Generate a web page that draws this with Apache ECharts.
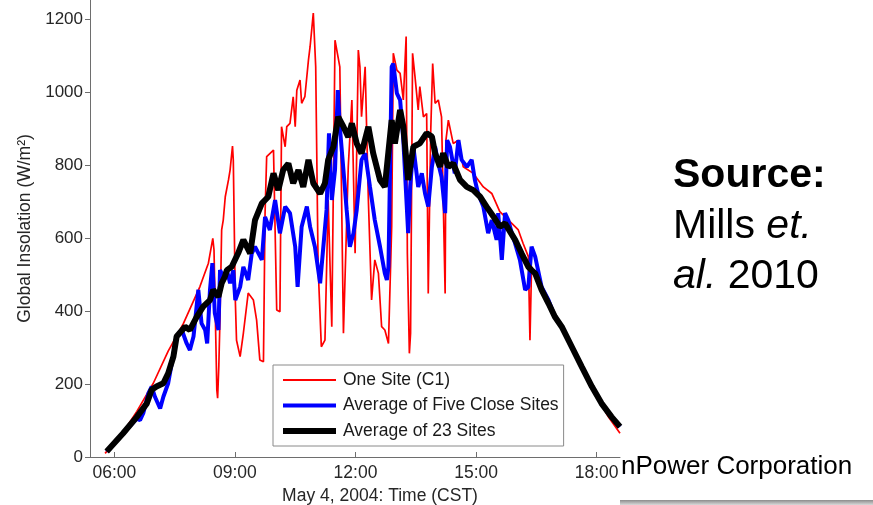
<!DOCTYPE html>
<html>
<head>
<meta charset="utf-8">
<script src="https://cdn.jsdelivr.net/npm/echarts@6.0.0/dist/echarts.min.js"></script>
<style>
  html, body { margin: 0; padding: 0; background: #fff; }
  #chart { width: 873px; height: 505px; }
</style>
</head>
<body>
<div id="chart"></div>
<script>
// time of day in hours (CST), insolation in W/m2
const oneSiteTime = [5.77, 6.22, 6.56, 6.97, 7.34, 7.72, 8.13, 8.34, 8.45, 8.48, 8.55, 8.57, 8.60, 8.63, 8.67, 8.71, 8.76, 8.84, 8.88, 8.94,
  8.96, 9.01, 9.04, 9.13, 9.21, 9.33, 9.46, 9.54, 9.62, 9.71, 9.75, 9.79, 9.96, 10.04, 10.08, 10.12, 10.16, 10.25, 10.29, 10.37,
  10.45, 10.50, 10.54, 10.62, 10.66, 10.74, 10.83, 10.87, 10.95, 11.01, 11.07, 11.15, 11.24, 11.32, 11.41, 11.49, 11.61, 11.70, 11.82, 11.91, 11.99,
  12.07, 12.11, 12.15, 12.24, 12.32, 12.40, 12.48, 12.57, 12.65, 12.73, 12.82, 12.90, 12.94, 13.03, 13.11, 13.19, 13.26, 13.29, 13.34, 13.37,
  13.42, 13.48, 13.56, 13.60, 13.69, 13.77, 13.81, 13.87, 13.92, 13.98, 14.06, 14.14, 14.23, 14.25, 14.31, 14.43, 14.56, 14.68, 14.93, 15.18,
  15.39, 15.59, 15.97, 16.05, 16.17, 16.30, 16.34, 16.38, 16.71, 17.13, 17.54, 17.96, 18.29, 18.58];
const oneSiteValue = [10, 68, 125, 202, 290, 366, 467, 531, 599, 567, 184, 161, 250, 384, 622, 649, 713, 759, 786, 852,
  813, 430, 320, 275, 339, 449, 430, 375, 266, 261, 668, 823, 841, 403, 398, 398, 905, 850, 905, 914,
  987, 905, 1005, 1033, 969, 987, 1088, 1124, 1216, 1069, 521, 302, 320, 704, 357, 1142, 1069, 339, 795, 978, 558,
  1115, 1069, 932, 1069, 704, 430, 540, 503, 357, 348, 311, 631, 1106, 1060, 1051, 978, 1152, 558, 284, 339,
  1106, 1042, 951, 1015, 932, 941, 448, 887, 1078, 969, 978, 932, 448, 868, 923, 859, 868, 795, 777, 740,
  722, 672, 631, 622, 585, 549, 320, 521, 448, 357, 257, 174, 110, 65];

const fiveSitesTime = [5.81, 6.22, 6.56, 6.64, 6.72, 6.85, 6.93, 7.01, 7.14, 7.22, 7.34, 7.43, 7.55, 7.68, 7.80, 7.88, 7.97, 8.09, 8.17, 8.26,
  8.31, 8.38, 8.44, 8.50, 8.59, 8.63, 8.71, 8.80, 8.88, 8.96, 9.01, 9.13, 9.21, 9.33, 9.42, 9.50, 9.67, 9.75, 9.87, 10.00,
  10.12, 10.25, 10.37, 10.50, 10.56, 10.66, 10.79, 10.87, 10.99, 11.12, 11.20, 11.28, 11.34, 11.41, 11.49, 11.56, 11.61, 11.70, 11.78, 11.86,
  11.95, 12.03, 12.15, 12.24, 12.36, 12.48, 12.61, 12.73, 12.78, 12.82, 12.90, 12.94, 13.03, 13.11, 13.19,
  13.31, 13.36, 13.44, 13.56, 13.65, 13.73, 13.81, 13.90, 13.98, 14.06, 14.14, 14.23, 14.28, 14.35, 14.47, 14.56, 14.64, 14.77, 14.89, 14.97,
  15.05, 15.18, 15.30, 15.39, 15.51, 15.55, 15.64, 15.72, 15.80, 15.89, 15.97, 16.09, 16.22, 16.30, 16.38, 16.47, 16.63, 16.80, 16.96, 17.13,
  17.38, 17.63, 17.88, 18.12, 18.37, 18.58];
const fiveSitesValue = [15, 65, 105, 101, 120, 175, 193, 165, 133, 165, 202, 257, 330, 348, 311, 293, 330, 458, 366, 348,
  311, 458, 531, 394, 348, 512, 494, 512, 476, 512, 430, 466, 521, 485, 558, 576, 540, 658, 622, 704,
  613, 686, 668, 576, 466, 631, 686, 631, 576, 476, 576, 677, 887, 704, 786, 1005, 905, 786, 677, 576,
  613, 677, 814, 832, 740, 649, 576, 503, 485, 521, 1069, 1078, 996, 978, 868,
  613, 740, 850, 740, 777, 722, 686, 795, 850, 804, 768, 668, 868, 850, 777, 868, 814, 795, 814, 759,
  722, 686, 613, 649, 595, 668, 540, 668, 649, 613, 585, 540, 458, 466, 576, 549, 466, 430, 384, 357,
  302, 247, 193, 147, 110, 83];

const allSitesTime = [5.81, 6.22, 6.56, 6.81, 6.93, 7.05, 7.22, 7.34, 7.47, 7.55, 7.76, 7.88, 8.05, 8.21, 8.38, 8.46, 8.59, 8.67, 8.75, 8.80,
  8.92, 9.08, 9.21, 9.38, 9.50, 9.67, 9.83, 9.96, 10.08, 10.20, 10.33, 10.45, 10.58, 10.70, 10.83, 10.95, 11.12, 11.24, 11.32, 11.45,
  11.57, 11.70, 11.82, 11.91, 12.03, 12.15, 12.32, 12.44, 12.61, 12.73, 12.90, 12.98, 13.11, 13.19, 13.31, 13.44, 13.60,
  13.77, 13.90, 13.98, 14.10, 14.18, 14.31, 14.43, 14.60, 14.77, 14.93, 15.10, 15.26, 15.43, 15.59, 15.72, 15.97, 16.13, 16.30, 16.38, 16.47,
  16.63, 16.80, 16.96, 17.13, 17.38, 17.63, 17.88, 18.12, 18.37, 18.58];
const allSitesValue = [15, 65, 110, 147, 184, 193, 202, 229, 275, 330, 357, 348, 384, 412, 430, 458, 439, 476, 494, 512,
  521, 558, 595, 558, 649, 695, 713, 777, 731, 786, 804, 750, 786, 740, 814, 750, 722, 750, 814, 850,
  932, 905, 877, 914, 859, 832, 905, 832, 759, 740, 923, 859, 951, 905, 759, 850, 859,
  887, 878, 832, 795, 832, 795, 804, 759, 740, 731, 713, 686, 659, 631, 640, 595, 558, 521, 512, 503,
  458, 421, 384, 357, 302, 247, 193, 147, 110, 83];

const xTicks = [6, 9, 12, 15, 18];
const yTicks = [0, 200, 400, 600, 800, 1000, 1200];

const FONT = '"Liberation Sans", Arial, sans-serif';

function pairs(t, v) {
  return t.map((h, i) => [h, v[i]]);
}

const chart = echarts.init(document.getElementById('chart'), null, { renderer: 'canvas' });

const option = {
  animation: false,
  backgroundColor: '#fff',
  textStyle: { fontFamily: FONT },
  grid: { left: 90, right: 253, top: 0, bottom: 48, outerBoundsMode: 'none', containLabel: false },
  xAxis: {
    type: 'value',
    min: 5.395,
    max: 18.58,
    name: 'May 4, 2004: Time (CST)',
    nameLocation: 'middle',
    nameGap: 28,
    nameTextStyle: { fontSize: 17.5, color: '#262626', fontFamily: FONT, padding: [0, 0, 0, 50] },
    axisLine: { show: true, lineStyle: { color: '#6e6e6e', width: 1 } },
    axisTick: { show: true, inside: true, length: 5, customValues: xTicks, lineStyle: { color: '#6e6e6e' } },
    axisLabel: {
      customValues: xTicks,
      margin: 7,
      fontSize: 17.5,
      color: '#262626',
      fontFamily: FONT,
      formatter: (v) => (v < 10 ? '0' : '') + v + ':00'
    },
    splitLine: { show: false }
  },
  yAxis: {
    type: 'value',
    min: 0,
    max: 1252,
    name: 'Global Insolation (W/m²)',
    nameLocation: 'middle',
    nameGap: 47,
    nameTextStyle: { fontSize: 17.5, color: '#262626', fontFamily: FONT },
    axisLine: { show: true, lineStyle: { color: '#6e6e6e', width: 1 } },
    axisTick: { show: true, inside: false, length: 5, customValues: yTicks, lineStyle: { color: '#6e6e6e' } },
    axisLabel: {
      customValues: yTicks,
      margin: 7,
      fontSize: 17,
      color: '#262626',
      fontFamily: FONT,
      formatter: (v) => String(v)
    },
    splitLine: { show: false }
  },
  legend: {
    orient: 'vertical',
    left: 273,
    top: 365,
    padding: [5, 5, 5, 10],
    itemGap: 5.5,
    itemWidth: 53,
    itemHeight: 12,
    backgroundColor: '#fff',
    borderColor: '#8a8a8a',
    borderWidth: 1,
    borderRadius: 0,
    selectedMode: false,
    itemStyle: { borderWidth: 0 },
    textStyle: { fontSize: 17.5, color: '#1a1a1a', fontFamily: FONT, lineHeight: 20, padding: [0, 0, 0, 2] },
    data: [
      { name: 'One Site (C1)', icon: 'path://M0,0M0,12M0,5.1H53V6.9H0Z' },
      { name: 'Average of Five Close Sites', icon: 'path://M0,0M0,12M0,4H53V8H0Z' },
      { name: 'Average of 23 Sites', icon: 'path://M0,0M0,12M0,3H53V9H0Z' }
    ]
  },
  series: [
    {
      name: 'One Site (C1)',
      type: 'line',
      data: pairs(oneSiteTime, oneSiteValue),
      symbol: 'none',
      color: '#ff0000',
      lineStyle: { color: '#ff0000', width: 1.7 }
    },
    {
      name: 'Average of Five Close Sites',
      type: 'line',
      data: pairs(fiveSitesTime, fiveSitesValue),
      symbol: 'none',
      color: '#0000ff',
      lineStyle: { color: '#0000ff', width: 4 }
    },
    {
      name: 'Average of 23 Sites',
      type: 'line',
      data: pairs(allSitesTime, allSitesValue),
      symbol: 'none',
      color: '#000000',
      lineStyle: { color: '#000000', width: 6 }
    }
  ],
  graphic: [
    {
      type: 'text', x: 673, y: 176,
      style: { text: 'Source:', font: 'bold 41px ' + FONT, fill: '#000', verticalAlign: 'middle' }
    },
    {
      type: 'text', x: 673, y: 227,
      style: {
        text: '{r|Mills }{i|et.}', verticalAlign: 'middle',
        rich: {
          r: { font: '41px ' + FONT, fill: '#000' },
          i: { font: 'italic 41px ' + FONT, fill: '#000' }
        }
      }
    },
    {
      type: 'text', x: 673, y: 277,
      style: {
        text: '{i|al.}{r| 2010}', verticalAlign: 'middle',
        rich: {
          r: { font: '41px ' + FONT, fill: '#000' },
          i: { font: 'italic 41px ' + FONT, fill: '#000' }
        }
      }
    },
    {
      type: 'text', x: 621, y: 467,
      style: { text: 'nPower Corporation', font: '26px ' + FONT, fill: '#000', verticalAlign: 'middle' }
    },
    {
      type: 'rect', shape: { x: 620, y: 500, width: 253, height: 5 },
      style: {
        fill: new echarts.graphic.LinearGradient(0, 0, 0, 1, [
          { offset: 0, color: '#8c8c8c' },
          { offset: 1, color: '#d9d9d9' }
        ])
      }
    }
  ]
};

chart.setOption(option);
</script>
</body>
</html>
